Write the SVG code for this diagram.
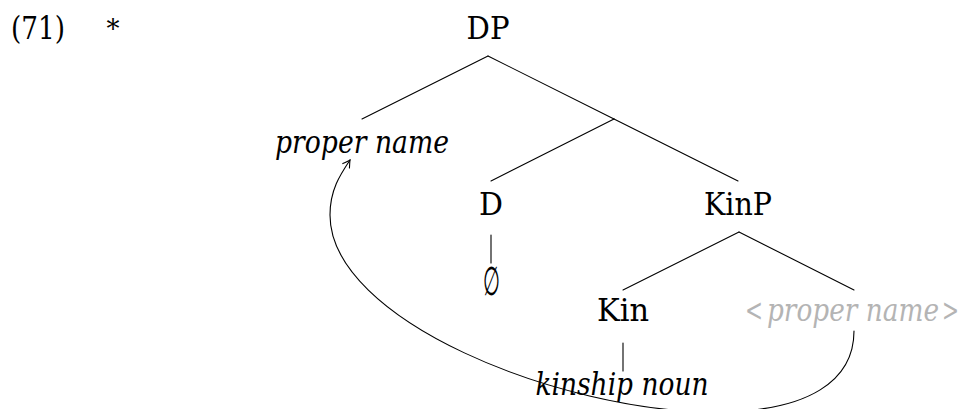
<svg xmlns="http://www.w3.org/2000/svg" width="960" height="409" viewBox="0 0 960 409">
<style>
  .it { font-style: italic; }
  .gr { fill: #b4b4b4; }
  .m { text-anchor: middle; }
  .edge { stroke: #000; stroke-width: 1.1; fill: none; stroke-linecap: round; }
</style>
<defs>
  <marker id="arr" viewBox="-10 -6 12 12" markerWidth="12" markerHeight="12" refX="0" refY="0" orient="auto" markerUnits="userSpaceOnUse">
    <path d="M-7,-4 Q-2,-1 0,0 Q-2,1 -7,4" fill="none" stroke="#000" stroke-width="1.1" stroke-linecap="round"/>
  </marker>
</defs>
<rect width="960" height="409" fill="#fff"/>
<g font-family="'DejaVu Serif', 'Liberation Serif', serif" font-size="31" fill="#000">
<g id="label">
  <text x="11" y="39" textLength="54" lengthAdjust="spacingAndGlyphs">(71)</text>
  <text x="113" y="38" class="m" font-size="26">*</text>
</g>
<g id="n-DP"><text x="488" y="39" class="m" textLength="43" lengthAdjust="spacingAndGlyphs">DP</text></g>
<g id="n-propername"><text x="362" y="153" class="m it" textLength="174" lengthAdjust="spacingAndGlyphs">proper name</text></g>
<g id="n-D"><text x="491" y="215" class="m" textLength="24" lengthAdjust="spacingAndGlyphs">D</text></g>
<g id="n-empty"><text x="491" y="295" class="m" font-size="40" textLength="17" lengthAdjust="spacingAndGlyphs">∅</text></g>
<g id="n-KinP"><text x="738" y="215" class="m" textLength="68" lengthAdjust="spacingAndGlyphs">KinP</text></g>
<g id="n-Kin"><text x="623" y="321" class="m" textLength="52" lengthAdjust="spacingAndGlyphs">Kin</text></g>
<g id="n-trace" class="gr">
  <text x="745" y="321" class="gr" textLength="18" lengthAdjust="spacingAndGlyphs">&lt;</text>
  <text x="767" y="321" class="gr it" textLength="172" lengthAdjust="spacingAndGlyphs">proper name</text>
  <text x="942" y="321" class="gr" textLength="17" lengthAdjust="spacingAndGlyphs">&gt;</text>
</g>
<g id="n-kinship"><text x="622" y="395" class="m it" textLength="173" lengthAdjust="spacingAndGlyphs">kinship noun</text></g>
</g>
<g id="connectors">
  <line class="edge" x1="488" y1="56" x2="362" y2="119"/>
  <line class="edge" x1="488" y1="56" x2="614" y2="119"/>
  <line class="edge" x1="614" y1="119" x2="491" y2="181"/>
  <line class="edge" x1="614" y1="119" x2="738" y2="181"/>
  <line class="edge" x1="491" y1="235" x2="491" y2="263"/>
  <line class="edge" x1="739" y1="232" x2="623" y2="290"/>
  <line class="edge" x1="739" y1="232" x2="854" y2="290"/>
  <line class="edge" x1="623" y1="343" x2="623" y2="371"/>
  <path class="edge" d="M854,331 C854,380 810,412 715,412 C560,412 330,320 330,215 C330,190 340,175 350,160" marker-end="url(#arr)"/>
</g>
</svg>
